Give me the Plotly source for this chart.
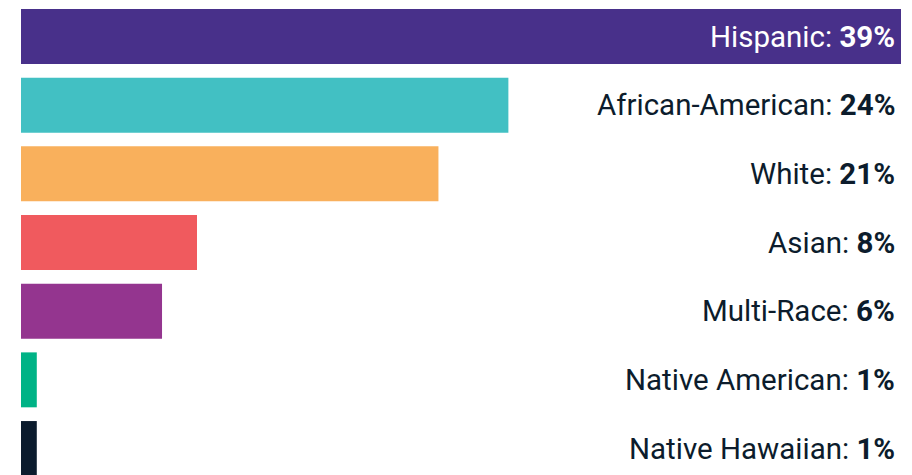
import plotly.graph_objects as go

categories = ["Hispanic", "African-American", "White", "Asian", "Multi-Race",
              "Native American", "Native Hawaiian"]
bar_values = [39, 21.6, 18.5, 7.8, 6.25, 0.7, 0.7]
label_values = ["39%", "24%", "21%", "8%", "6%", "1%", "1%"]
colors = ["#48308a", "#42c0c3", "#f9b05c", "#f05a5e", "#94358f", "#00b386", "#0b1b2d"]
text_colors = ["#ffffff", "#0c1c2c", "#0c1c2c", "#0c1c2c", "#0c1c2c", "#0c1c2c", "#0c1c2c"]

fig = go.Figure(go.Bar(
    y=categories, x=bar_values, orientation="h",
    marker=dict(color=colors, line=dict(width=0)),
    hoverinfo="skip",
))

for cat, lab, tc in zip(categories, label_values, text_colors):
    fig.add_annotation(
        x=(897 - 21) / 891, xref="paper", y=cat, yref="y",
        text=f"{cat}: <b>{lab}</b>", showarrow=False,
        xanchor="right", yanchor="middle",
        font=dict(family="Roboto", size=29.5, color=tc),
    )

fig.update_layout(
    width=912, height=475,
    margin=dict(l=21, r=0, t=0, b=0),
    paper_bgcolor="white", plot_bgcolor="white",
    bargap=0.2, showlegend=False,
    xaxis=dict(range=[0, 39 * 891 / 880], visible=False, fixedrange=True),
    yaxis=dict(categoryorder="array", categoryarray=categories,
               range=[6.3856, -0.5315], visible=False, fixedrange=True),
)

fig.write_html("out.html", config={"displayModeBar": False},
               post_script="document.body.style.margin='0';document.body.style.overflow='hidden';")
